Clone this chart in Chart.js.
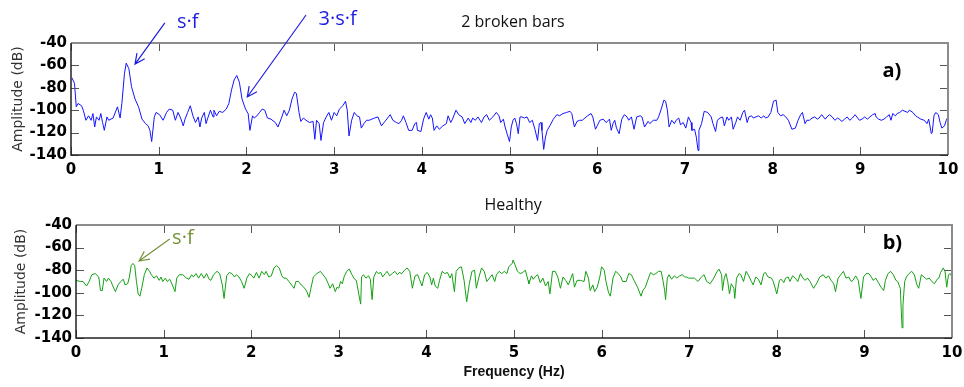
<!DOCTYPE html>
<html>
<head>
<meta charset="utf-8">
<script src="https://cdn.jsdelivr.net/npm/chart.js@4.4.1/dist/chart.umd.min.js"></script>
<style>
  html, body { margin: 0; padding: 0; background: #fff; }
  #wrap { position: relative; width: 964px; height: 387px; }
  canvas { position: absolute; left: 0; }
  #chartA { top: 0; }
  #chartB { top: 190px; }
</style>
</head>
<body>
<div id="wrap">
  <canvas id="chartA" width="964" height="190"></canvas>
  <canvas id="chartB" width="964" height="197"></canvas>
</div>
<script>
// a) 2 broken bars - spectrum (Hz, dB)
const freqA = [0.01,0.04,0.06,0.08,0.12,0.14,0.17,0.20,0.23,0.25,0.27,0.29,0.32,0.34,0.36,0.38,0.41,0.43,0.48,0.53,0.56,0.58,0.61,0.63,0.66,0.69,0.73,0.77,0.81,0.85,0.88,0.90,0.92,0.95,0.97,
  1.01,1.05,1.09,1.12,1.16,1.19,1.22,1.25,1.28,1.30,1.33,1.36,1.39,1.42,1.45,1.47,1.49,1.52,1.54,1.56,1.59,1.62,1.63,1.66,1.69,1.73,1.77,1.80,1.83,1.86,1.89,1.92,1.95,1.99,
  2.02,2.04,2.07,2.09,2.12,2.15,2.18,2.21,2.24,2.28,2.33,2.36,2.40,2.43,2.46,2.49,2.52,2.55,2.57,2.60,2.62,2.65,2.68,2.72,2.76,2.78,2.80,2.83,2.85,2.88,2.91,2.94,2.97,
  3.00,3.03,3.06,3.10,3.13,3.15,3.17,3.20,3.23,3.26,3.29,3.31,3.34,3.37,3.40,3.46,3.50,3.54,3.58,3.62,3.64,3.67,3.71,3.74,3.77,3.79,3.82,3.85,3.89,3.92,3.94,3.95,3.99,
  4.02,4.05,4.08,4.10,4.12,4.14,4.17,4.20,4.24,4.28,4.30,4.33,4.35,4.39,4.42,4.46,4.49,4.53,4.56,4.58,4.61,4.64,4.68,4.71,4.74,4.77,4.81,4.85,4.88,4.90,4.93,4.95,4.98,
  5.00,5.02,5.04,5.06,5.08,5.10,5.12,5.14,5.17,5.20,5.23,5.26,5.29,5.32,5.34,5.36,5.37,5.39,5.41,5.43,5.46,5.50,5.54,5.57,5.61,5.65,5.69,5.71,5.74,5.77,5.80,5.83,5.86,5.89,5.93,5.95,5.98,
  6.00,6.03,6.07,6.10,6.13,6.14,6.16,6.18,6.20,6.22,6.25,6.28,6.31,6.34,6.36,6.39,6.42,6.45,6.49,6.51,6.54,6.58,6.60,6.64,6.68,6.70,6.73,6.76,6.78,6.80,6.82,6.85,6.88,6.90,6.93,6.95,6.98,
  7.01,7.04,7.07,7.08,7.11,7.13,7.15,7.16,7.19,7.22,7.26,7.30,7.32,7.35,7.37,7.40,7.43,7.45,7.48,7.50,7.53,7.55,7.58,7.60,7.63,7.66,7.68,7.71,7.73,7.76,7.78,7.81,7.84,7.87,7.90,7.92,7.95,7.98,
  8.01,8.04,8.06,8.09,8.12,8.15,8.18,8.22,8.26,8.29,8.32,8.34,8.37,8.39,8.42,8.45,8.48,8.51,8.53,8.56,8.60,8.62,8.65,8.68,8.71,8.74,8.76,8.79,8.82,8.85,8.88,8.91,8.94,8.97,8.99,
  9.02,9.05,9.08,9.11,9.14,9.17,9.18,9.21,9.24,9.27,9.30,9.33,9.35,9.37,9.40,9.42,9.45,9.48,9.51,9.54,9.56,9.60,9.63,9.65,9.69,9.73,9.76,9.78,9.81,9.82,9.84,9.86,9.89,9.91,9.93,9.96,9.98,10.00];
const ampA = [-71,-76,-97,-94,-96,-100,-109,-105,-109,-103,-115,-106,-109,-103,-111,-118,-106,-109,-107,-97,-107,-94,-67,-58,-63,-79,-90,-97,-108,-112,-114,-118,-128,-106,-102,
  -104,-109,-102,-99,-100,-109,-102,-107,-114,-108,-102,-96,-105,-111,-106,-115,-107,-102,-112,-107,-100,-106,-100,-105,-101,-102,-99,-94,-82,-73,-69,-75,-90,-99,
  -103,-118,-105,-107,-105,-102,-99,-100,-107,-108,-111,-115,-107,-100,-105,-100,-90,-84,-85,-102,-110,-107,-109,-111,-110,-126,-109,-112,-127,-111,-106,-102,-109,
  -102,-105,-99,-96,-92,-100,-123,-109,-102,-105,-106,-116,-112,-109,-109,-107,-106,-114,-110,-106,-104,-109,-111,-112,-109,-105,-111,-118,-118,-112,-111,-118,-119,
  -108,-102,-108,-104,-107,-118,-114,-117,-114,-112,-105,-111,-108,-100,-104,-106,-112,-107,-111,-107,-109,-106,-111,-106,-104,-109,-106,-102,-105,-111,-108,-115,-123,
  -128,-115,-109,-107,-112,-121,-106,-106,-107,-106,-111,-109,-117,-127,-112,-111,-118,-135,-124,-118,-114,-108,-104,-105,-103,-102,-101,-103,-115,-110,-109,-109,-107,-105,-103,-106,-117,
  -114,-109,-108,-111,-109,-108,-118,-112,-109,-116,-121,-108,-104,-106,-109,-106,-117,-106,-105,-106,-115,-110,-112,-109,-109,-106,-99,-91,-92,-100,-115,-109,-112,-109,-107,-113,-111,
  -116,-106,-111,-118,-117,-124,-136,-118,-112,-101,-102,-106,-112,-119,-109,-107,-106,-114,-106,-109,-106,-117,-111,-106,-109,-102,-100,-111,-106,-105,-107,-106,-105,-107,-105,-107,-106,-102,
  -92,-91,-102,-105,-104,-106,-109,-117,-116,-109,-104,-102,-112,-109,-109,-107,-106,-108,-107,-104,-108,-106,-104,-106,-109,-107,-108,-110,-108,-106,-109,-107,-104,-107,-109,
  -108,-106,-108,-106,-104,-103,-106,-108,-109,-108,-106,-104,-109,-103,-105,-103,-102,-100,-101,-102,-100,-102,-105,-106,-108,-109,-112,-108,-121,-120,-105,-102,-104,-111,-116,-114,-109,-106];

// b) Healthy - spectrum (Hz, dB)
const freqB = [0.00,0.05,0.08,0.12,0.15,0.18,0.22,0.26,0.28,0.30,0.32,0.35,0.37,0.40,0.42,0.45,0.48,0.51,0.54,0.56,0.59,0.61,0.63,0.65,0.67,0.69,0.71,0.73,0.75,0.78,0.81,0.84,0.86,0.89,0.92,0.95,0.97,0.99,
  1.02,1.04,1.07,1.10,1.13,1.15,1.18,1.22,1.26,1.29,1.32,1.34,1.37,1.40,1.43,1.46,1.49,1.52,1.54,1.57,1.61,1.64,1.67,1.69,1.72,1.75,1.78,1.81,1.83,1.86,1.89,1.92,1.95,1.98,
  2.01,2.03,2.06,2.09,2.12,2.15,2.17,2.20,2.23,2.26,2.29,2.32,2.35,2.37,2.40,2.43,2.46,2.49,2.51,2.54,2.57,2.60,2.63,2.66,2.69,2.71,2.75,2.79,2.82,2.85,2.88,2.90,2.93,2.96,2.98,
  3.00,3.02,3.04,3.06,3.09,3.12,3.15,3.18,3.20,3.23,3.25,3.26,3.28,3.31,3.34,3.36,3.38,3.40,3.43,3.45,3.48,3.50,3.53,3.55,3.58,3.61,3.64,3.67,3.69,3.72,3.75,3.78,3.81,3.84,3.87,3.90,3.92,3.95,3.98,
  4.01,4.04,4.06,4.08,4.10,4.13,4.15,4.18,4.21,4.24,4.27,4.29,4.32,4.34,4.37,4.40,4.43,4.46,4.49,4.52,4.55,4.57,4.60,4.63,4.66,4.69,4.72,4.75,4.78,4.80,4.83,4.86,4.89,4.92,4.94,4.98,4.99,
  5.01,5.04,5.07,5.10,5.13,5.16,5.17,5.20,5.22,5.25,5.27,5.30,5.33,5.36,5.39,5.41,5.44,5.47,5.50,5.53,5.56,5.59,5.62,5.64,5.67,5.69,5.72,5.76,5.80,5.82,5.85,5.87,5.90,5.92,5.95,5.98,
  6.00,6.03,6.05,6.08,6.10,6.13,6.16,6.19,6.22,6.24,6.28,6.31,6.34,6.37,6.41,6.45,6.47,6.50,6.54,6.56,6.59,6.62,6.65,6.68,6.70,6.72,6.73,6.75,6.77,6.80,6.83,6.86,6.89,6.92,6.95,6.97,6.99,
  7.02,7.06,7.10,7.14,7.17,7.20,7.24,7.28,7.32,7.34,7.37,7.38,7.40,7.42,7.44,7.46,7.48,7.51,7.52,7.54,7.57,7.59,7.62,7.65,7.68,7.71,7.73,7.76,7.79,7.82,7.85,7.87,7.90,7.94,7.96,
  8.00,8.03,8.05,8.08,8.10,8.13,8.15,8.18,8.21,8.24,8.27,8.29,8.32,8.35,8.38,8.42,8.46,8.49,8.53,8.56,8.59,8.62,8.65,8.67,8.70,8.73,8.76,8.79,8.82,8.85,8.87,8.90,8.93,8.96,8.99,
  9.02,9.05,9.08,9.10,9.13,9.16,9.19,9.22,9.24,9.27,9.30,9.33,9.36,9.38,9.41,9.42,9.43,9.44,9.46,9.48,9.51,9.54,9.57,9.60,9.62,9.65,9.68,9.71,9.74,9.77,9.80,9.83,9.85,9.87,9.90,9.92,9.94,9.96,9.98,10.00];
const ampB = [-89,-90,-90,-94,-90,-84,-83,-86,-98,-98,-87,-90,-87,-90,-94,-99,-93,-90,-88,-93,-92,-86,-76,-74,-76,-90,-101,-103,-96,-84,-78,-81,-84,-87,-85,-89,-86,-90,
  -87,-90,-88,-93,-99,-87,-84,-84,-87,-88,-84,-86,-83,-87,-83,-87,-83,-88,-89,-84,-81,-83,-93,-105,-85,-82,-83,-86,-84,-86,-90,-96,-87,-83,
  -85,-87,-82,-87,-81,-84,-81,-86,-85,-78,-76,-78,-85,-87,-87,-90,-93,-96,-90,-90,-93,-95,-98,-104,-93,-86,-83,-81,-84,-87,-92,-96,-92,-99,-95,
  -96,-90,-92,-86,-81,-79,-84,-88,-89,-102,-110,-86,-84,-87,-85,-88,-106,-86,-81,-83,-82,-86,-83,-81,-85,-83,-81,-84,-82,-83,-80,-78,-81,-96,-85,-84,-88,-94,-84,
  -82,-86,-93,-87,-94,-96,-89,-81,-83,-82,-87,-83,-99,-81,-78,-77,-89,-108,-92,-81,-80,-96,-86,-78,-81,-90,-87,-84,-90,-84,-81,-83,-81,-83,-77,-74,-71,
  -75,-81,-83,-82,-80,-89,-92,-85,-88,-85,-84,-91,-87,-94,-90,-101,-81,-81,-86,-96,-86,-89,-93,-89,-83,-95,-89,-89,-90,-81,-87,-98,-93,-99,-95,-86,
  -77,-80,-90,-100,-103,-87,-81,-83,-86,-90,-90,-83,-84,-89,-95,-103,-98,-95,-86,-82,-84,-83,-81,-81,-89,-98,-106,-87,-84,-88,-85,-87,-85,-84,-86,-86,-87,
  -87,-87,-90,-86,-84,-90,-92,-87,-81,-79,-84,-98,-87,-83,-90,-101,-92,-96,-105,-87,-83,-84,-90,-81,-85,-90,-93,-86,-88,-93,-83,-82,-86,-87,-90,
  -101,-89,-88,-91,-87,-86,-90,-85,-87,-90,-83,-86,-89,-87,-90,-96,-91,-86,-84,-87,-85,-89,-92,-99,-87,-84,-81,-87,-86,-90,-89,-85,-89,-105,-86,
  -83,-83,-86,-89,-87,-91,-95,-98,-89,-83,-81,-84,-89,-90,-96,-114,-131,-111,-90,-86,-83,-81,-84,-93,-96,-84,-86,-88,-87,-90,-92,-88,-87,-82,-78,-81,-95,-84,-83,-86];

const yTitle = 'Amplitude (dB)';
const xTitle = 'Frequency (Hz)';

// inward tick marks and the matlab style box
const framePlugin = {
  id: 'frame',
  afterDatasetsDraw(chart) {
    const { ctx, chartArea: a, scales: { x, y } } = chart;
    ctx.save();
    ctx.lineWidth = 1;
    ctx.strokeStyle = '#555';
    ctx.beginPath();
    x.ticks.forEach(t => {
      const px = Math.round(x.getPixelForValue(t.value)) + 0.5;
      ctx.moveTo(px, a.bottom); ctx.lineTo(px, a.bottom - 8);
      ctx.moveTo(px, a.top); ctx.lineTo(px, a.top + 8);
    });
    y.ticks.forEach(t => {
      const py = Math.round(y.getPixelForValue(t.value)) + 0.5;
      ctx.moveTo(a.left, py); ctx.lineTo(a.left + 8, py);
      ctx.moveTo(a.right, py); ctx.lineTo(a.right - 8, py);
    });
    ctx.stroke();

    ctx.lineWidth = 2;
    ctx.strokeStyle = '#8c8c8c';
    ctx.beginPath();
    ctx.moveTo(a.left, a.top); ctx.lineTo(a.right, a.top); ctx.lineTo(a.right, a.bottom);
    ctx.stroke();
    ctx.lineWidth = 1.5;
    ctx.strokeStyle = '#222';
    ctx.beginPath();
    ctx.moveTo(a.left, a.top); ctx.lineTo(a.left, a.bottom); ctx.lineTo(a.right, a.bottom);
    ctx.stroke();
    ctx.restore();
  }
};

// titles, panel letters and arrows, placed in data units
const notesPlugin = {
  id: 'notes',
  afterDraw(chart, args, opts) {
    const { ctx, scales: { x, y } } = chart;
    ctx.save();
    (opts.arrows || []).forEach(ar => {
      const x0 = x.getPixelForValue(ar.from[0]), y0 = y.getPixelForValue(ar.from[1]);
      const x1 = x.getPixelForValue(ar.to[0]), y1 = y.getPixelForValue(ar.to[1]);
      const ang = Math.atan2(y1 - y0, x1 - x0);
      ctx.strokeStyle = ar.color;
      ctx.lineWidth = 1.2;
      ctx.beginPath();
      ctx.moveTo(x0, y0); ctx.lineTo(x1, y1);
      ctx.moveTo(x1 - 11 * Math.cos(ang - 0.45), y1 - 11 * Math.sin(ang - 0.45));
      ctx.lineTo(x1, y1);
      ctx.lineTo(x1 - 11 * Math.cos(ang + 0.45), y1 - 11 * Math.sin(ang + 0.45));
      ctx.stroke();
    });
    (opts.texts || []).forEach(t => {
      ctx.font = t.font;
      ctx.fillStyle = t.color;
      ctx.textAlign = 'center';
      ctx.textBaseline = t.baseline || 'middle';
      ctx.fillText(t.text, x.getPixelForValue(t.x), y.getPixelForValue(t.y));
    });
    ctx.restore();
  }
};

function makeChart(id, freq, amp, color, box, notes) {
  const ctx = document.getElementById(id).getContext('2d');
  return new Chart(ctx, {
    type: 'line',
    data: {
      datasets: [{
        data: freq.map((f, i) => ({ x: f, y: amp[i] })),
        borderColor: color,
        borderWidth: 1,
        pointRadius: 0,
        tension: 0,
        fill: false
      }]
    },
    options: {
      responsive: false,
      animation: false,
      devicePixelRatio: 1,
      layout: { padding: { left: 0, right: box.padRight, top: box.padTop, bottom: 0 } },
      plugins: {
        legend: { display: false },
        tooltip: { enabled: false },
        notes: notes
      },
      scales: {
        x: {
          type: 'linear',
          min: 0,
          max: 10,
          grid: { display: false, drawTicks: false },
          border: { display: false },
          ticks: {
            stepSize: 1,
            padding: 6,
            maxRotation: 0,
            color: '#000',
            font: { family: 'DejaVu Sans', weight: 'bold', size: 15 }
          },
          title: {
            display: box.xTitle,
            text: xTitle,
            color: '#111',
            padding: { top: 0, bottom: 6 },
            font: { family: 'Liberation Sans', weight: 'bold', size: 14 }
          },
          afterFit(scale) {
            scale.height = box.xHeight;
            scale.paddingLeft = 0;
            scale.paddingRight = 0;
          }
        },
        y: {
          min: -140,
          max: -40,
          grid: { display: false, drawTicks: false },
          border: { display: false },
          ticks: {
            stepSize: 20,
            padding: 4,
            color: '#000',
            font: { family: 'DejaVu Sans', weight: 'bold', size: 15 }
          },
          title: {
            display: true,
            text: yTitle,
            color: '#333',
            padding: { top: box.yTitlePad, bottom: 0 },
            font: { family: 'DejaVu Sans', size: 14 }
          },
          afterFit(scale) {
            scale.width = box.yWidth;
            scale.paddingTop = 0;
            scale.paddingBottom = 0;
          }
        }
      }
    },
    plugins: [framePlugin, notesPlugin]
  });
}

const blueNote = '#1e1ee0';
const oliveNote = '#76923c';

makeChart('chartA', freqA, ampA, '#1414ff',
  { padRight: 16, padTop: 43, xHeight: 35, yWidth: 71, yTitlePad: 10, xTitle: false },
  {
    arrows: [
      { from: [1.07, -22], to: [0.73, -58.8], color: blueNote },
      { from: [2.68, -15], to: [2.01, -88.2], color: blueNote }
    ],
    texts: [
      { text: '2 broken bars', x: 5.04, y: -21.3, color: '#111', font: '16px "Open Sans"' },
      { text: 's\u00b7f', x: 1.33, y: -26.6, color: blueNote, font: '20px "Open Sans"', baseline: 'alphabetic' },
      { text: '3\u00b7s\u00b7f', x: 3.04, y: -23.9, color: blueNote, font: '20px "Open Sans"', baseline: 'alphabetic' },
      { text: 'a)', x: 9.36, y: -65, color: '#000', font: 'bold 20px "Open Sans"' }
    ]
  });

makeChart('chartB', freqB, ampB, '#14a014',
  { padRight: 12, padTop: 35, xHeight: 49, yWidth: 76, yTitlePad: 13, xTitle: true },
  {
    arrows: [
      { from: [1.07, -52.4], to: [0.72, -71.9], color: oliveNote }
    ],
    texts: [
      { text: 'Healthy', x: 4.99, y: -22.3, color: '#111', font: '16px "Open Sans"' },
      { text: 's\u00b7f', x: 1.22, y: -56.8, color: oliveNote, font: '20px "Open Sans"', baseline: 'alphabetic' },
      { text: 'b)', x: 9.32, y: -56, color: '#000', font: 'bold 20px "Open Sans"' }
    ]
  });
</script>
</body>
</html>
